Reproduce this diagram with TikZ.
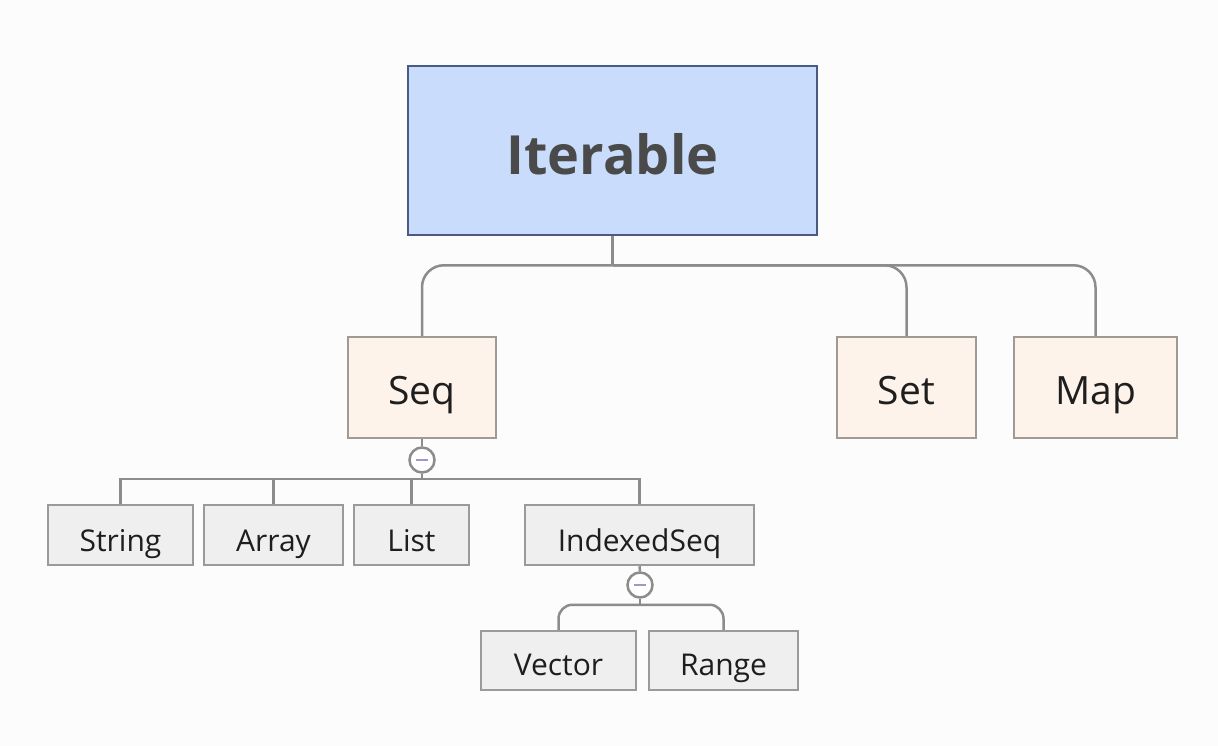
\documentclass[tikz,border=0pt]{standalone}
\usepackage{fontspec}
\setmainfont{Open Sans}
\begin{document}
\begin{tikzpicture}[x=1pt,y=-1pt,
  conn/.style={draw=connc,line width=2.5pt},
  box/.style={draw,line width=2.5pt,inner sep=0pt,anchor=center,text=txtc,text depth=0pt},
  topbox/.style={box,draw=topbd,fill=topfill,minimum width=409pt,minimum height=169pt,
     text=toptxt,font=\fontsize{54}{60}\selectfont\bfseries,text height=49pt},
  midbox/.style={box,draw=midbd,fill=midfill,minimum height=101pt,font=\fontsize{39}{42}\selectfont,text height=33pt},
  lowbox/.style={box,draw=lowbd,fill=lowfill,minimum height=60pt,font=\fontsize{30}{34}\selectfont,text height=32pt},
  lowbox2/.style={lowbox,minimum height=59pt,text height=29pt},
  fold/.style={circle,draw=connc,line width=2.5pt,fill=white,minimum size=25pt,inner sep=0pt},
  foldmark/.style={draw=markc,line width=2pt}
]
\definecolor{bgc}{HTML}{FCFCFC}
\definecolor{connc}{HTML}{8C8C8C}
\definecolor{topbd}{HTML}{4A5A82}
\definecolor{topfill}{HTML}{C9DCFB}
\definecolor{toptxt}{HTML}{4A4A4A}
\definecolor{midbd}{HTML}{A09A94}
\definecolor{midfill}{HTML}{FEF3EA}
\definecolor{lowbd}{HTML}{9A9A9A}
\definecolor{lowfill}{HTML}{EFEFEF}
\definecolor{txtc}{HTML}{1E1E1E}
\definecolor{markc}{HTML}{9A9ACC}
\fill[bgc] (0,0) rectangle (1218,746);
\useasboundingbox (0,0) rectangle (1218,746);

\node[topbox] (iter) at (612.5,150.5) {Iterable};
\node[midbox,minimum width=148pt] (seq) at (422,387.5) {Seq};
\node[midbox,minimum width=139pt] (set) at (906.5,387.5) {Set};
\node[midbox,minimum width=163pt] (map) at (1095.5,387.5) {Map};

\node[fold] (seqc) at (422,460) {};
\node[lowbox,minimum width=145pt] (string) at (120.5,535) {String};
\node[lowbox,minimum width=139pt] (array) at (273.5,535) {Array};
\node[lowbox,minimum width=115pt] (list) at (411.5,535) {List};
\node[lowbox,minimum width=229pt] (idx) at (639.5,535) {IndexedSeq};

\node[fold] (idxc) at (640,585) {};
\node[lowbox2,minimum width=155pt] (vector) at (558.5,660.5) {Vector};
\node[lowbox2,minimum width=149pt] (range) at (723.5,660.5) {Range};

% top level connectors
\draw[conn] (iter.south) -- ++(0,29) coordinate (j1);
\draw[conn,rounded corners=22pt] (j1) -| (seq.north);
\draw[conn,rounded corners=22pt] (j1) -| (set.north);
\draw[conn,rounded corners=22pt] (j1) -| (map.north);

% Seq children
\draw[conn] (seq.south) -- (seqc.north);
\draw[conn] (seqc.south) -- ++(0,5) coordinate (j2);
\draw[conn] (j2) -| (string.north);
\draw[conn] (j2) -| (array.north);
\draw[conn] (j2) -| (list.north);
\draw[conn] (j2) -| (idx.north);
\draw[foldmark] ([xshift=-6pt]seqc.center) -- ([xshift=6pt]seqc.center);

% IndexedSeq children
\draw[conn] (idx.south) -- (idxc.north);
\draw[conn] (idxc.south) -- ++(0,6) coordinate (j3);
\draw[conn,rounded corners=14pt] (j3) -| (vector.north);
\draw[conn,rounded corners=14pt] (j3) -| (range.north);
\draw[foldmark] ([xshift=-6pt]idxc.center) -- ([xshift=6pt]idxc.center);
\end{tikzpicture}
\end{document}
